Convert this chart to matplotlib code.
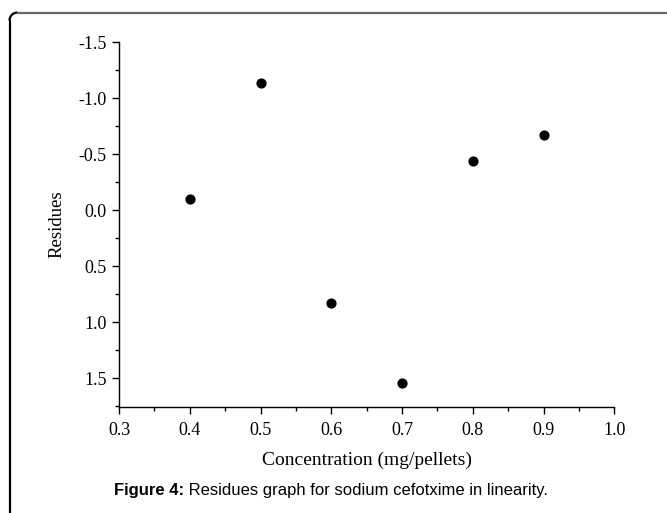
import matplotlib
matplotlib.use("Agg")
import matplotlib.pyplot as plt
from matplotlib.lines import Line2D
from matplotlib.patches import Arc
from matplotlib.ticker import MultipleLocator

concentration = [0.4, 0.5, 0.6, 0.7, 0.8, 0.9]
residues = [-0.10, -1.14, 0.83, 1.54, -0.44, -0.67]
x_ticks = [0.3, 0.4, 0.5, 0.6, 0.7, 0.8, 0.9, 1.0]
y_ticks = [-1.5, -1.0, -0.5, 0.0, 0.5, 1.0, 1.5]

W, H = 667, 513
fig = plt.figure(figsize=(W / 100, H / 100), dpi=100)
ax = fig.add_axes([119 / W, 1 - 406.7 / H, (614.3 - 119) / W, (406.7 - 42.3) / H])

ax.scatter(concentration, residues, s=40, color="black", zorder=3)
ax.set_xlim(0.3, 1.0)
ax.set_ylim(1.754, -1.5)
ax.set_xticks(x_ticks)
ax.set_yticks(y_ticks)
ax.xaxis.set_minor_locator(MultipleLocator(0.05))
ax.yaxis.set_minor_locator(MultipleLocator(0.25))
ax.set_xticklabels([f"{v:.1f}" for v in x_ticks])
ax.set_yticklabels([f"{v:.1f}" for v in y_ticks])

serif = "Liberation Serif"
for lab in ax.get_xticklabels() + ax.get_yticklabels():
    lab.set_fontfamily(serif)
    lab.set_fontsize(13)
ax.tick_params(which="major", direction="out", length=5, width=1)
ax.tick_params(axis="x", which="major", pad=6)
ax.tick_params(axis="y", which="major", pad=4)
ax.tick_params(which="minor", direction="out", length=3, width=1)
for s in ["top", "right"]:
    ax.spines[s].set_visible(False)
for s in ["left", "bottom"]:
    ax.spines[s].set_linewidth(1)
ax.set_xlabel("Concentration (mg/pellets)", fontfamily=serif, fontsize=14, labelpad=9)
ax.set_ylabel("Residues", fontfamily=serif, fontsize=13.5, labelpad=9)

# Caption
cy = 1 - 491 / H
t1 = fig.text(0.5, cy, "Figure 4:", fontfamily="Liberation Sans", fontweight="bold",
              fontsize=12, ha="right", va="center")
cap = fig.text(0.5, cy, " Residues graph for sodium cefotxime in linearity.",
               fontfamily="Liberation Sans", fontsize=12, ha="left", va="center")
fig.canvas.draw()
r = fig.canvas.get_renderer()
b1 = t1.get_window_extent(r)
b2 = cap.get_window_extent(r)
total = b1.width + b2.width
x0 = 331 - total / 2
t1.set_x((x0 + b1.width) / W)
cap.set_x((x0 + b1.width) / W)

# frame: left and top border with rounded corner
rad = 8
lx, ty = 9.5, 12.5
fig.add_artist(Line2D([lx / W, lx / W], [0, 1 - (ty + rad) / H], color="black", lw=1.6,
                      transform=fig.transFigure))
fig.add_artist(Line2D([(lx + rad) / W, 666 / W], [1 - ty / H, 1 - ty / H], color="#666666", lw=1.6,
                      transform=fig.transFigure))
fig.add_artist(Arc(((lx + rad) / W, 1 - (ty + rad) / H), 2 * rad / W, 2 * rad / H,
                   theta1=90, theta2=180, color="black", lw=1.6, transform=fig.transFigure))

fig.savefig("out.png", dpi=100)
